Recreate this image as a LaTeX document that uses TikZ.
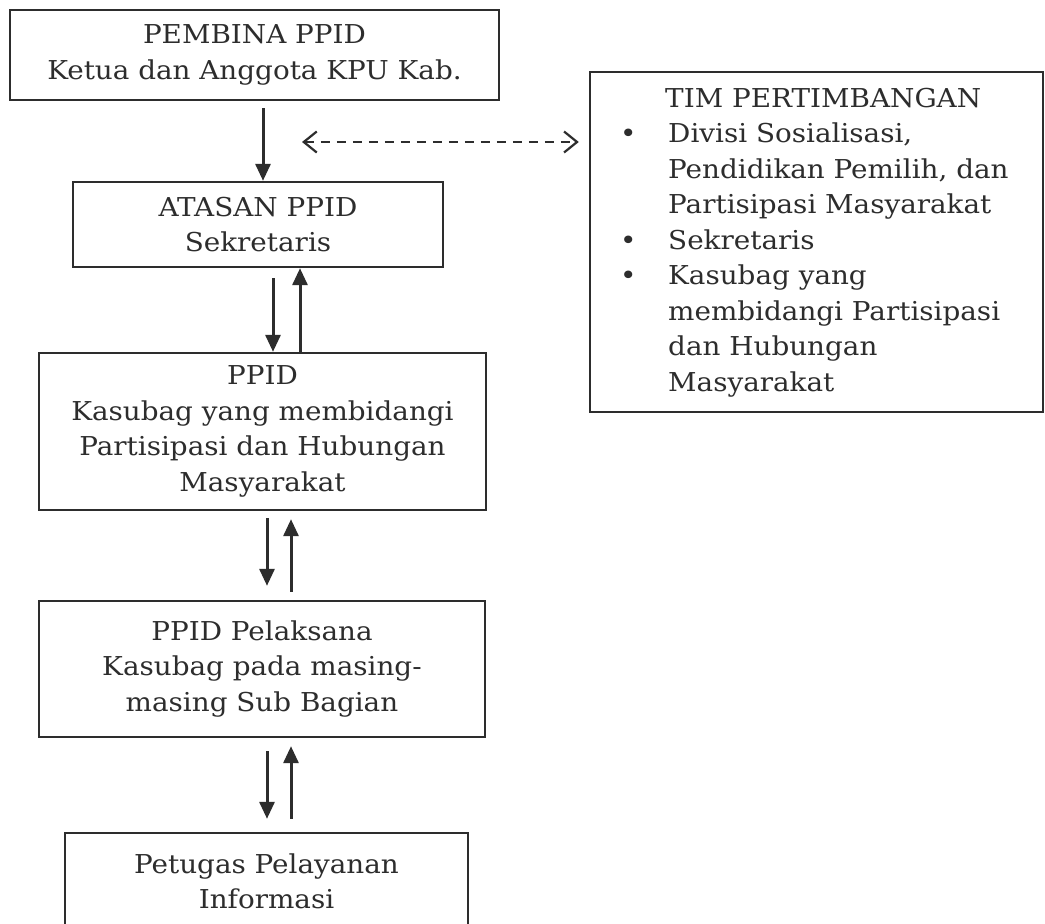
\documentclass[tikz,border=0pt]{standalone}
\usepackage{fontspec}
\setmainfont[FakeStretch=1.07]{DejaVu Serif}
\usetikzlibrary{arrows.meta}
\definecolor{ink}{RGB}{45,45,45}
\tikzset{
  box/.style={draw=ink, line width=2.4pt, rectangle, inner sep=0pt, align=center, text=ink,
    font=\fontsize{26}{35.5}\selectfont},
  arr/.style={draw=ink, line width=3pt, -{Triangle[length=17pt,width=15pt]}},
  dasharr/.style={draw=ink, line width=2pt, dash pattern=on 9pt off 7pt,
    {Straight Barb[length=13pt,width=21pt,line width=2.2pt]}-{Straight Barb[length=13pt,width=21pt,line width=2.2pt]}}
}
\begin{document}
\begin{tikzpicture}[x=1pt,y=-1pt]
\useasboundingbox (0,0) rectangle (1045,924);
\clip (0,0) rectangle (1045,924);
\fill[white] (0,0) rectangle (1045,924);

\node[box, minimum width=489pt, minimum height=90pt] (b1) at (254.5,55)
  {PEMBINA PPID\\Ketua dan Anggota KPU Kab.};
\node[box, minimum width=370pt, minimum height=85pt] (b2) at (258,224.5)
  {ATASAN PPID\\Sekretaris};
\node[box, minimum width=447pt, minimum height=157pt] (b3) at (262.5,431.5)
  {PPID\\Kasubag yang membidangi\\Partisipasi dan Hubungan\\Masyarakat};
\node[box, minimum width=446pt, minimum height=136pt] (b4) at (262,669)
  {PPID Pelaksana\\Kasubag pada masing-\\masing Sub Bagian};
\node[box, minimum width=403pt, minimum height=97pt] (b5) at (266.5,881.5)
  {Petugas Pelayanan\\Informasi};

\node[box, minimum width=453pt, minimum height=340pt] (tim) at (816.5,242) {};
\node[anchor=west, align=left, inner sep=0pt, text=ink,
  font=\fontsize{26}{35.5}\selectfont] (timtext) at (620,242.5)
  {\hspace*{45pt}TIM PERTIMBANGAN\\
   \makebox[48pt][l]{\textbullet}Divisi Sosialisasi,\\
   \hspace*{48pt}Pendidikan Pemilih, dan\\
   \hspace*{48pt}Partisipasi Masyarakat\\
   \makebox[48pt][l]{\textbullet}Sekretaris\\
   \makebox[48pt][l]{\textbullet}Kasubag yang\\
   \hspace*{48pt}membidangi Partisipasi\\
   \hspace*{48pt}dan Hubungan\\
   \hspace*{48pt}Masyarakat};

% connectors
\draw[arr] ([xshift=8.5pt,yshift=-7pt]b1.south) -- ([xshift=8.5pt]b1.south |- b2.north);
\draw[arr] ([xshift=15pt,yshift=-10pt]b2.south) -- ([xshift=15pt]b2.south |- b3.north);
\draw[arr] ([xshift=42pt]b2.south |- b3.north) -- ([xshift=42pt]b2.south);
\draw[arr] ([xshift=4.5pt,yshift=-7pt]b3.south) -- ([xshift=4.5pt,yshift=14pt]b3.south |- b4.north);
\draw[arr] ([xshift=28.5pt,yshift=8pt]b3.south |- b4.north) -- ([xshift=28.5pt,yshift=-8pt]b3.south);
\draw[arr] ([xshift=5pt,yshift=-13pt]b4.south) -- ([xshift=5pt,yshift=13pt]b4.south |- b5.north);
\draw[arr] ([xshift=29pt,yshift=13pt]b4.south |- b5.north) -- ([xshift=29pt,yshift=-8pt]b4.south);

\coordinate (dl) at (302,142);
\draw[dasharr] (dl) -- ([xshift=-10pt]tim.west |- dl);
\end{tikzpicture}
\end{document}
